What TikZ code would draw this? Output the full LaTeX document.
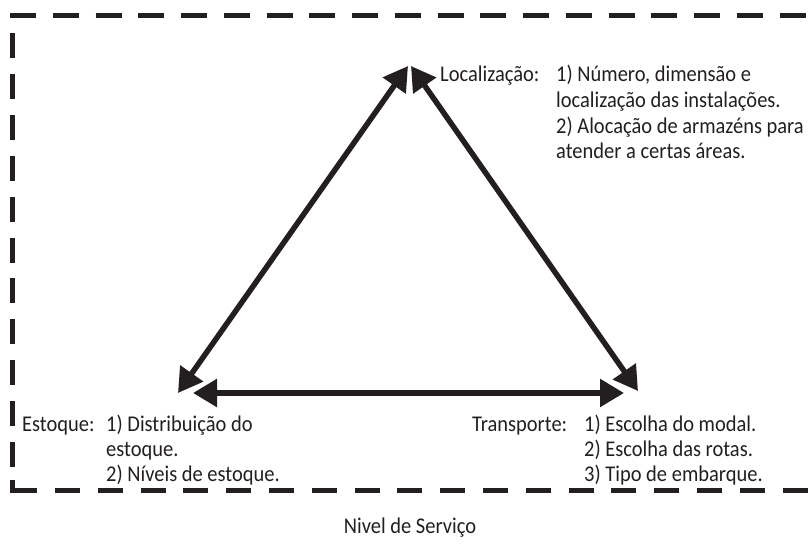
\documentclass[tikz,border=0pt]{standalone}
\usepackage{fontspec}
\setmainfont{Carlito}[FakeStretch=0.91]
\usetikzlibrary{arrows.meta}
\definecolor{ink}{HTML}{231F20}
\begin{document}
\begin{tikzpicture}[x=1pt,y=-1pt,
  frame/.style={draw=ink,line width=5pt},
  link/.style={draw=ink,line width=5.5pt,{Triangle[length=24pt,width=27pt]}-{Triangle[length=24pt,width=27pt]}},
  txt/.style={anchor=base west,inner sep=0pt,text=ink,font=\fontsize{22.5}{25}\selectfont}]
\useasboundingbox (0,0) rectangle (811,548);
% frame
\draw[frame,dash pattern=on 26pt off 16.75pt] (10,15.5) -- (811,15.5);
\draw[frame,dash pattern=on 25pt off 15.9pt] (12.5,33) -- (12.5,482);
\draw[frame] (12.5,480) -- (12.5,490) -- (37,490);
\draw[frame,dash pattern=on 25pt off 17.8pt] (55,490) -- (811,490);
% arrow end points
\coordinate (locA) at (408,66);
\coordinate (locB) at (411,66);
\coordinate (estA) at (178,393);
\coordinate (estB) at (193,393);
\coordinate (traA) at (638,391);
\coordinate (traB) at (624,393);
\draw[link] (estA) -- (locA);
\draw[link] (locB) -- (traA);
\draw[link] (estB) -- (traB);
% Localizacao
\node[txt] (loc) at (440,82) {Localização:};
\node[txt] (loc1) at (556,82) {1) Número, dimensão e};
\node[txt] (loc2) at (556,108) {localização das instalações.};
\node[txt] (loc3) at (556,134) {2) Alocação de armazéns para};
\node[txt] (loc4) at (556,159) {atender a certas áreas.};
% Estoque
\node[txt] (est) at (22,431) {Estoque:};
\node[txt] (est1) at (106,431) {1) Distribuição do};
\node[txt] (est2) at (106,456) {estoque.};
\node[txt] (est3) at (106,481) {2) Níveis de estoque.};
% Transporte
\node[txt] (tra) at (472,431) {Transporte:};
\node[txt] (tra1) at (584,431) {1) Escolha do modal.};
\node[txt] (tra2) at (584,456) {2) Escolha das rotas.};
\node[txt] (tra3) at (584,481) {3) Tipo de embarque.};
% Nivel de servico
\node[txt,anchor=base] (niv) at (410,533) {Nivel de Serviço};
\end{tikzpicture}
\end{document}
